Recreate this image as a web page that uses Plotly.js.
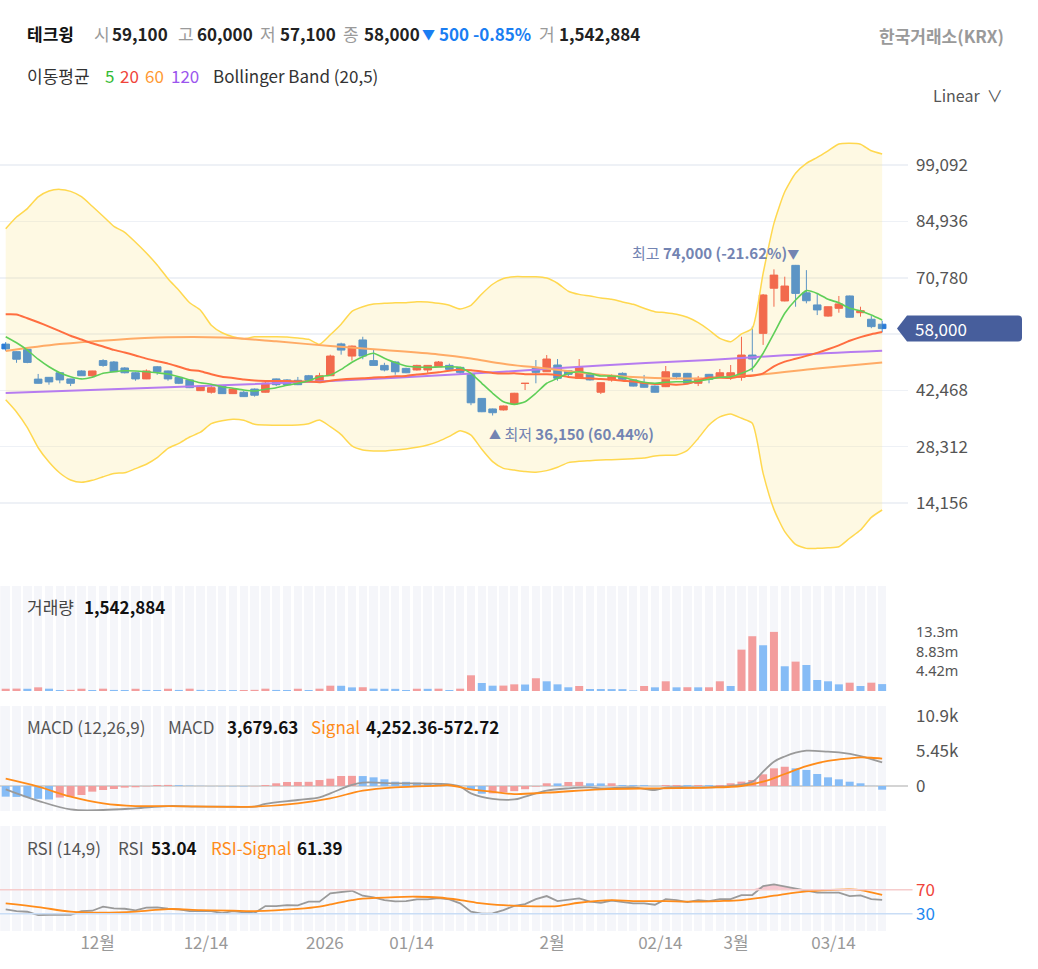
<!DOCTYPE html>
<html><head><meta charset="utf-8">
<script src="https://cdn.plot.ly/plotly-3.0.1.min.js"></script>
<style>html,body{margin:0;padding:0;background:#fff;}#chart{width:1038px;height:969px;}</style>
</head><body><div id="chart"></div>
<script>
// ---------------- DATA ----------------
const stockName = '테크윙';
const exchangeName = '한국거래소(KRX)';
const dates = [
'2025-11-19','2025-11-20','2025-11-21','2025-11-24','2025-11-25','2025-11-26','2025-11-27','2025-11-28',
'2025-12-01','2025-12-02','2025-12-03','2025-12-04','2025-12-05','2025-12-08','2025-12-09','2025-12-10','2025-12-11','2025-12-12',
'2025-12-15','2025-12-16','2025-12-17','2025-12-18','2025-12-19','2025-12-22','2025-12-23','2025-12-24','2025-12-26','2025-12-29','2025-12-30',
'2026-01-02','2026-01-05','2026-01-06','2026-01-07','2026-01-08','2026-01-09','2026-01-12','2026-01-13','2026-01-14','2026-01-15','2026-01-16',
'2026-01-19','2026-01-20','2026-01-21','2026-01-22','2026-01-23','2026-01-26','2026-01-27','2026-01-28','2026-01-29','2026-01-30',
'2026-02-02','2026-02-03','2026-02-04','2026-02-05','2026-02-06','2026-02-09','2026-02-10','2026-02-11','2026-02-12','2026-02-13',
'2026-02-19','2026-02-20','2026-02-23','2026-02-24','2026-02-25','2026-02-26','2026-02-27',
'2026-03-03','2026-03-04','2026-03-05','2026-03-06','2026-03-09','2026-03-10','2026-03-11','2026-03-12','2026-03-13',
'2026-03-16','2026-03-17','2026-03-18','2026-03-19','2026-03-20','2026-03-23'];

const tickDates  = ['2025-12-01','2025-12-15','2026-01-02','2026-01-14','2026-02-02','2026-02-19','2026-03-03','2026-03-16'];
const tickLabels = ['12월','12/14','2026','01/14','2월','02/14','3월','03/14'];

const open = [
54100,52200,52800,45300,45750,46900,45350,47350,46150,49950,
49600,48100,46900,45350,48400,47350,45750,45100,42400,42000,
43550,41650,42000,42800,42000,45350,45100,45000,46150,44650,
46150,54150,51100,55150,49950,48750,49600,48000,47600,47600,
48400,48750,48250,46450,40450,37800,37550,39050,44200,48000,
47150,48850,47400,45500,46500,42000,45100,46750,45100,44400,
43550,43400,46750,46750,44250,46500,45750,45750,45750,51350,
56800,68150,64950,73900,67000,63950,61150,63100,66200,62000,
60350,59100];
const high = [
54600,52300,53200,46600,45800,47000,45400,47500,47400,50300,
49850,48300,47100,47750,48600,47450,45850,45200,43700,44050,
43700,42950,42400,42950,44650,45450,45300,45850,46350,46900,
51450,54450,53750,55950,52850,49400,49750,48150,48900,48850,
49850,49200,48350,46600,40550,37900,38650,41850,44250,50100,
51350,50350,47450,50350,46600,44450,46500,47000,45200,46350,
43700,48600,46850,46850,46100,46600,47850,48850,55950,58500,
66700,72900,71050,74000,72700,66850,63550,66200,66300,63500,
61150,60000];
const low = [
52400,49400,49300,44200,43900,44250,43550,46100,45750,48400,
47100,46750,44900,45300,46400,44900,44050,43050,42300,41650,
41550,41550,40800,40900,41900,43550,43700,43800,44850,44550,
46100,51450,49950,50300,48700,47250,46400,46800,47450,46900,
48350,47600,46350,38750,37000,36150,37400,38900,42550,44250,
47100,44900,45900,45450,44950,41550,44650,45100,43450,43150,
41900,43300,45250,44150,43550,44250,45500,45100,44900,47150,
53900,63500,64850,63500,64350,61400,61000,62000,60800,61000,
58100,57100];
const close = [
52900,50300,49500,44250,44600,45100,44250,46150,47350,48750,
47150,46900,45350,47350,47150,45350,44250,43150,43550,43150,
41650,42800,40900,41250,44300,43900,43900,43900,45000,46150,
51100,52600,53600,51100,48750,47600,47150,46900,48750,48750,
49600,47750,47000,39350,37100,36850,38550,41750,44250,47000,
50350,45500,46500,48250,45100,44400,46150,45250,43550,43250,
42000,47150,45900,44250,45500,45250,46900,46900,51350,50350,
66450,71450,68700,66850,65000,62700,63500,64200,60850,62500,
58500,58000];
const volume = [
510000,540000,500000,820000,520000,230000,260000,510000,230000,520000,
240000,220000,500000,240000,220000,510000,240000,520000,250000,230000,
220000,210000,230000,260000,520000,240000,220000,510000,230000,520000,
1190000,1170000,810000,840000,520000,500000,480000,230000,510000,490000,
520000,230000,520000,3510000,1790000,1190000,1210000,1490000,1450000,2850000,
2170000,1490000,830000,1120000,450000,440000,430000,420000,150000,1120000,
820000,2170000,820000,840000,820000,830000,2170000,1120000,9250000,12250000,
10230000,13220000,5530000,6570000,5820000,2460000,2170000,1490000,1860000,1120000,
1860000,1542884];

const ma5 = [
55950,54450,52600,50300,48400,46900,45900,45350,45750,46750,
47150,47400,47350,47150,46900,46600,45900,45100,44400,44000,
43400,43000,42550,42300,42750,43150,43750,44250,44900,45900,
46350,47750,49550,50950,51800,50550,49450,48600,48350,48250,
48350,48400,48250,46750,44250,41750,39600,38950,39600,41750,
44250,45500,46750,47150,46750,46100,46100,45750,45100,44500,
44250,44500,44650,44650,44750,45250,45750,45900,46750,48000,
51800,56800,61850,65200,67550,66850,65350,64500,63100,62500,
61400,60150];
const ma20 = [
61600,61550,60600,59600,58500,57350,56200,55250,54300,53500,
52650,52000,51250,50450,49800,49200,48400,47600,47300,46500,
45900,45600,45200,44950,44850,44800,44800,44700,44700,44500,
44900,45200,45400,45500,45700,45800,46000,46100,46450,46700,
47000,47400,47650,47500,47200,46850,46700,46750,46550,46500,
46500,46300,45850,45600,45500,45300,45200,44900,44700,44300,
44100,44100,43900,44100,44950,45700,45700,45600,46050,46150,
46750,48500,49700,50400,51150,51900,52800,53800,54950,55850,
56600,57150];
const ma60 = [
52350,null,null,null,null,54100,null,null,null,null,
55150,null,null,null,null,55800,null,null,null,null,
55750,null,null,null,null,54800,null,null,null,null,
53600,null,null,null,null,52600,null,null,null,null,
51500,null,null,50500,null,null,49150,null,null,null,
47950,null,null,null,null,46400,null,null,null,null,
45600,null,null,null,null,45500,null,null,null,null,
46500,null,null,null,null,47950,null,null,null,null,
null,49500];
const ma120 = [
41800,null,null,null,null,null,null,null,null,null,
null,null,null,null,null,43250,null,null,null,null,
null,null,null,null,null,null,null,null,null,null,
44800,null,null,null,null,null,null,null,null,null,
null,null,null,null,null,null,47150,null,null,null,
null,null,null,null,null,48750,null,null,null,null,
null,null,null,null,null,50100,null,null,null,null,
null,null,51300,null,null,null,null,null,null,null,
null,52450];
const bbUpper = [
83100,86050,88150,91100,92600,93000,92500,91150,88750,86250,
83700,82200,79700,77000,74000,70550,67650,64500,62600,58850,
56950,55950,55450,55950,55950,55950,55900,55650,55300,54050,
56450,59100,62350,63500,64200,64350,64500,64500,64750,64700,
64350,63850,62950,63850,66700,69150,70600,71050,71050,71050,
70700,69400,67400,66600,66200,65700,65350,64700,64100,63100,
62250,62000,61600,60850,59500,57650,55550,54700,56650,58100,
71900,84450,92400,97050,99550,101050,102700,104400,104600,104350,
102700,101900];
const bbLower = [
40100,37050,33100,28050,24450,21700,19950,19350,19850,20750,
21600,21750,22800,23900,25550,27900,29150,30750,31950,34100,
34850,35200,34950,33950,33750,33700,33700,33750,34100,35000,
33350,31350,28500,27480,27250,27250,27500,27750,28150,28750,
29650,30900,32350,31200,27650,24550,22850,22450,22050,21900,
22300,23150,24300,24650,24800,24950,25050,25150,25300,25450,
25950,26150,26200,27400,30400,33750,35800,36550,35450,34200,
21600,12550,6950,3750,2750,2750,2900,3150,5300,7350,
10550,12400];

const macd = [
-520,null,null,-2300,null,null,-3650,null,null,-3740,
null,null,-3480,null,null,-3120,null,null,-3220,null,
null,-3220,null,-3220,-2800,null,null,-2180,null,-1770,
-1140,null,160,520,null,null,420,null,null,null,
null,250,-100,-1140,null,-2000,null,-2100,-1660,null,
-730,null,-360,null,-210,-360,null,null,-210,null,
-620,-260,null,null,null,-210,null,0,null,670,
2230,3790,4600,5200,5500,null,5350,5240,null,4670,
null,3679.63];
const macdSignal = [
1140,null,null,-100,null,null,-1660,null,null,-2700,
null,null,-3120,null,null,-3120,null,null,null,null,
null,null,null,-3220,null,null,null,-2700,null,null,
-1920,null,null,-730,null,null,-210,null,null,null,
50,120,null,-520,null,-900,null,-1250,null,null,
-1040,null,null,null,null,-520,null,null,null,null,
-360,null,null,null,null,-260,null,null,0,null,
670,null,1870,null,3100,null,3900,null,4310,4450,
4400,4252.36];
const macdHist = [
-1660,-1700,-1750,-2000,-2100,-1800,-1660,-1400,-880,-620,
-470,-250,-200,-50,150,170,120,60,30,-20,
-40,-50,-60,-30,150,420,620,630,650,930,
1140,1560,1580,1550,1350,1040,670,650,520,420,
310,160,20,-550,-1200,-1150,-1000,-800,-500,-100,
420,400,620,640,420,400,420,150,140,130,
-20,150,160,140,160,140,160,420,680,930,
1820,2750,3000,2750,2500,1870,1350,1040,670,420,
20,-572.72];

const rsi = [
37.2,34.4,33.3,27.8,28.3,28.3,28.3,34.4,35,41.7,
38.9,38.3,35.6,40,40.6,38.3,37.2,34.4,35,34.4,
31.1,34.4,32.2,31.1,42.8,42.8,44.4,43.9,50,50,
63.9,66.7,68.3,60,57.2,52.8,50.6,51.1,53.9,53.9,
56.1,53.9,47.2,33.3,30,30.5,36,43,46,54.4,
59.4,51.1,53.9,55.6,50,48.3,51.7,50,47.2,47.2,
45,54.4,52.8,49.4,52.8,51.1,54.4,54.4,61.1,61.1,
76.1,78.9,75,71.1,68.3,65,65,65,59.4,60.6,
54.4,53.04];
const rsiSignal = [
47.2,null,null,41,null,null,33.5,null,null,31.8,
null,null,33.5,null,null,37.8,null,null,36.1,null,
null,35,null,34.4,null,null,null,38,null,41.7,
45.5,null,52.5,55,null,null,57.8,null,58.3,null,
57,null,52.8,null,47.2,null,44.2,null,null,42.2,
null,42.8,null,48.3,null,null,52.8,null,51.1,null,
null,51.1,null,50,null,null,51.1,null,52.8,null,
57.2,null,62.8,null,67.2,null,69.4,null,70.5,69.4,
65.5,61.39];

const priceTicks = [14156,28312,42468,56624,70780,84936,99092];
const volTicks = [4420000,8830000,13260000];
const volTickLabels = ['4.42m','8.83m','13.3m'];
const macdTicks = [0,5450,10900];
const macdTickLabels = ['0','5.45k','10.9k'];
const rsiLevels = [30,70];

// ---------------- STYLE ----------------
const FONT = "'Noto Sans CJK KR','Noto Sans',sans-serif";
const RED = '#f0433a', BLUE = '#2b7cd8';
const VRED = '#f39d9d', VBLUE = '#86bcf6';
const W = 1038, H = 969;
const M = {l:0, r:130, t:110, b:38};
const PW = W - M.l - M.r, PH = H - M.t - M.b;
const px = x => (x - M.l) / PW;
const py = y => (H - M.b - y) / PH;
const X = dates.map((d, i) => i);
const xr = [-0.527, 83.39];
const fmt = v => v.toLocaleString('en-US');
const fmt2 = v => v.toLocaleString('en-US', {minimumFractionDigits:2, maximumFractionDigits:2});

const n = dates.length;
const last = n - 1;
const lastClose = close[last];
const volColors = volume.map((v, i) => (i === 0 || v > volume[i-1]) ? VRED : VBLUE);
const histColors = macdHist.map((h, i) => (i === 0 ? h >= 0 : h >= macdHist[i-1]) ? VRED : VBLUE);

const traces = [
  {type:'scatter', x:X, y:bbUpper, mode:'lines', line:{color:'#ffd84f', width:1.5, shape:'spline', smoothing:0.6}, xaxis:'x', yaxis:'y', hoverinfo:'skip'},
  {type:'scatter', x:X, y:bbLower, mode:'lines', fill:'tonexty', fillcolor:'rgba(250,228,140,0.24)', line:{color:'#ffd84f', width:1.5, shape:'spline', smoothing:0.6}, xaxis:'x', yaxis:'y', hoverinfo:'skip'},
  {type:'candlestick', x:X, open:open, high:high, low:low, close:close, xaxis:'x', yaxis:'y',
    increasing:{line:{color:RED, width:1}, fillcolor:RED},
    decreasing:{line:{color:BLUE, width:1}, fillcolor:BLUE}, whiskerwidth:0, hoverinfo:'skip'},
  {type:'scatter', x:X, y:ma120, mode:'lines', connectgaps:true, line:{color:'#b67cf0', width:2, shape:'spline'}, xaxis:'x', yaxis:'y'},
  {type:'scatter', x:X, y:ma60, mode:'lines', connectgaps:true, line:{color:'#ffab66', width:2, shape:'spline'}, xaxis:'x', yaxis:'y'},
  {type:'scatter', x:X, y:ma20, mode:'lines', line:{color:'#ff6e40', width:2, shape:'spline', smoothing:0.6}, xaxis:'x', yaxis:'y'},
  {type:'scatter', x:X, y:ma5, mode:'lines', line:{color:'#5fcf58', width:1.6, shape:'spline', smoothing:0.5}, xaxis:'x', yaxis:'y'},
  // volume
  {type:'bar', x:X, y:volume, marker:{color:volColors, line:{width:0}}, width:0.74, xaxis:'x2', yaxis:'y2'},
  // MACD
  {type:'bar', x:X, y:macdHist, marker:{color:histColors, line:{width:0}}, width:0.74, xaxis:'x3', yaxis:'y3'},
  {type:'scatter', x:X, y:macd, mode:'lines', connectgaps:true, line:{color:'#9a9a9a', width:1.8, shape:'spline'}, xaxis:'x3', yaxis:'y3'},
  {type:'scatter', x:X, y:macdSignal, mode:'lines', connectgaps:true, line:{color:'#ff8c1a', width:1.8, shape:'spline'}, xaxis:'x3', yaxis:'y3'},
  // RSI fills
  {type:'scatter', x:X, y:rsi.map(() => rsiLevels[1]), mode:'lines', line:{width:0}, xaxis:'x4', yaxis:'y4', hoverinfo:'skip'},
  {type:'scatter', x:X, y:rsi.map(v => Math.max(v, rsiLevels[1])), mode:'lines', fill:'tonexty', fillcolor:'rgba(245,150,165,0.5)', line:{width:0}, xaxis:'x4', yaxis:'y4', hoverinfo:'skip'},
  {type:'scatter', x:X, y:rsi.map(() => rsiLevels[0]), mode:'lines', line:{width:0}, xaxis:'x4', yaxis:'y4', hoverinfo:'skip'},
  {type:'scatter', x:X, y:rsi.map(v => Math.min(v, rsiLevels[0])), mode:'lines', fill:'tonexty', fillcolor:'rgba(150,190,240,0.45)', line:{width:0}, xaxis:'x4', yaxis:'y4', hoverinfo:'skip'},
  {type:'scatter', x:X, y:rsi, mode:'lines', line:{color:'#9a9a9a', width:1.8}, xaxis:'x4', yaxis:'y4'},
  {type:'scatter', x:X, y:rsiSignal, mode:'lines', connectgaps:true, line:{color:'#ff8c1a', width:1.8, shape:'spline'}, xaxis:'x4', yaxis:'y4'}
];

const stripes = {tickmode:'linear', tick0:0.5, dtick:1, showgrid:true, gridcolor:'#ffffff', gridwidth:2.4, ticks:''};
const baseX = {range:xr, showgrid:false, zeroline:false, showline:false, ticks:'', fixedrange:true};
const yFont = {family:FONT, size:17, color:'#555'};

const layout = {
  width:W, height:H, margin:M,
  paper_bgcolor:'#ffffff', plot_bgcolor:'rgba(0,0,0,0)',
  showlegend:false, hovermode:false,
  boxgap:0.3, boxgroupgap:0,
  font:{family:FONT, size:17, color:'#555'},
  xaxis: Object.assign({}, baseX, {anchor:'y', showticklabels:false, rangeslider:{visible:false}}),
  xaxis2: Object.assign({}, baseX, {anchor:'y2', matches:'x', showticklabels:false, minor:stripes}),
  xaxis3: Object.assign({}, baseX, {anchor:'y3', matches:'x', showticklabels:false, minor:stripes}),
  xaxis4: Object.assign({}, baseX, {anchor:'y4', matches:'x', minor:stripes,
    tickmode:'array', tickvals:tickDates.map(d => dates.indexOf(d) + 0.5), ticktext:tickLabels,
    tickfont:{family:FONT, size:17, color:'#999'}}),
  yaxis: {domain:[py(576), 1], range:[-4196, 112956], side:'right', tickmode:'array', tickvals:priceTicks,
    ticktext:priceTicks.map(v => Math.abs(v - lastClose) < 4000 ? '' : fmt(v)), showgrid:true, gridcolor:'#eef1f6', gridwidth:1.5, zeroline:false,
    tickfont:yFont, ticks:'', ticklabelstandoff:7, fixedrange:true},
  yaxis2: {domain:[py(691), py(586)], range:[0, 23480000], side:'right', tickmode:'array', tickvals:volTicks,
    ticktext:volTickLabels, showgrid:false, zeroline:false, tickfont:{family:"'Noto Sans',sans-serif", size:14.5, color:'#555'}, ticks:'', ticklabelstandoff:7, fixedrange:true},
  yaxis3: {domain:[py(811), py(706)], range:[-3894, 12461], side:'right', tickmode:'array', tickvals:macdTicks,
    ticktext:macdTickLabels, showgrid:false, zeroline:true, zerolinecolor:'#d4d4d4', zerolinewidth:1.5,
    tickfont:yFont, ticks:'', ticklabelstandoff:7, fixedrange:true},
  yaxis4: {domain:[0, py(826)], range:[1.2, 176.2], side:'right', tickmode:'array', tickvals:rsiLevels,
    ticktext:['<span style="color:#1e88f0">' + rsiLevels[0] + '</span>', '<span style="color:#f0443a">' + rsiLevels[1] + '</span>'],
    showgrid:false, zeroline:false, tickfont:yFont, ticks:'', ticklabelstandoff:7, fixedrange:true},
  shapes: [],
  annotations: []
};

['2','3','4'].forEach(a => layout.shapes.push({type:'rect', xref:'x'+a, yref:'y'+a+' domain', x0:-0.5, x1:n-0.5, y0:0, y1:1,
  fillcolor:'#f5f6fa', line:{width:0}, layer:'below'}));
layout.shapes.push({type:'line', xref:'paper', yref:'y4', x0:0, x1:1.005, y0:rsiLevels[1], y1:rsiLevels[1], line:{color:'#f6cccc', width:1.5}, layer:'above'});
layout.shapes.push({type:'line', xref:'paper', yref:'y4', x0:0, x1:1.005, y0:rsiLevels[0], y1:rsiLevels[0], line:{color:'#c9ddf6', width:1.5}, layer:'above'});

layout.shapes.push({type:'path', xref:'paper', yref:'y', xsizemode:'pixel', ysizemode:'pixel', xanchor:1, yanchor:lastClose,
  path:'M-11,0L-1,-13L110,-13Q114,-13 114,-9L114,9Q114,13 110,13L-1,13Z', fillcolor:'#475e9c', line:{width:0}, layer:'above'});

function T(x, y, text, color, size, anchor) {
  return {xref:'paper', yref:'paper', x:px(x), y:py(y), xanchor:anchor || 'left', yanchor:'middle', text:text,
    showarrow:false, font:{family:FONT, size:size || 17, color:color || '#333'}};
}
const A = layout.annotations;
const GRAY = '#9a9a9a';
const chg = close[last] - close[last-1];
const chgPct = (chg / close[last-1] * 100).toFixed(2);
const arrow = chg < 0 ? '▼' : '▲';
const chgColor = chg < 0 ? '#1a7ef2' : RED;
// header
A.push(T(25, 33, '<b>' + stockName + '</b>', '#111'));
A.push(T(92, 33, '시', GRAY)); A.push(T(110, 33, '<b>' + fmt(open[last]) + '</b>', '#222'));
A.push(T(176, 33, '고', GRAY)); A.push(T(195, 33, '<b>' + fmt(high[last]) + '</b>', '#222'));
A.push(T(258, 33, '저', GRAY)); A.push(T(278, 33, '<b>' + fmt(low[last]) + '</b>', '#222'));
A.push(T(341, 33, '종', GRAY)); A.push(T(362, 33, '<b>' + fmt(close[last]) + '</b>', '#222'));
A.push(T(420, 33, arrow, chgColor, 13)); A.push(T(437, 33, '<b>' + fmt(Math.abs(chg)) + ' ' + chgPct + '%</b>', chgColor));
A.push(T(537, 33, '거', GRAY)); A.push(T(557, 33, '<b>' + fmt(volume[last]) + '</b>', '#222'));
A.push(T(1006, 36, '<b>' + exchangeName + '</b>', '#9a9a9a', 17, 'right'));
// MA legend
A.push(T(25, 75, '이동평균', '#333'));
A.push(T(103, 75, '5', '#33bb33'));
A.push(T(118, 75, '20', '#f0443a'));
A.push(T(143, 75, '60', '#ff9a33'));
A.push(T(169, 75, '120', '#9b55ee'));
A.push(T(211, 75, 'Bollinger Band (20,5)', '#333'));
A.push(T(1005, 95, 'Linear \u00a0\u2228', '#555', 16, 'right'));
// panel titles
A.push(T(25, 606, '거래량', '#444'));
A.push(T(82, 606, '<b>' + fmt(volume[last]) + '</b>', '#111'));
A.push(T(25, 726, 'MACD (12,26,9)', '#555'));
A.push(T(166, 726, 'MACD', '#555'));
A.push(T(225, 726, '<b>' + fmt2(macd[last]) + '</b>', '#111'));
A.push(T(309, 726, 'Signal', '#ff8c1a'));
A.push(T(364, 726, '<b>' + fmt2(macdSignal[last]) + fmt2(macdHist[last]) + '</b>', '#111'));
A.push(T(25, 847, 'RSI (14,9)', '#555'));
A.push(T(116, 847, 'RSI', '#555'));
A.push(T(149, 847, '<b>' + rsi[last].toFixed(2) + '</b>', '#111'));
A.push(T(209, 847, 'RSI-Signal', '#ff8c1a'));
A.push(T(295, 847, '<b>' + rsiSignal[last].toFixed(2) + '</b>', '#111'));
// price badge text
A.push({xref:'paper', yref:'y', x:px(913), y:lastClose, xanchor:'left', yanchor:'middle', text:fmt(lastClose),
  showarrow:false, font:{family:FONT, size:17, color:'#ffffff'}});
// max / min markers
const hiV = Math.max(...high), hiI = high.indexOf(hiV);
const loV = Math.min(...low), loI = low.indexOf(loV);
const hiPct = ((lastClose / hiV - 1) * 100).toFixed(2);
const loPct = ((lastClose / loV - 1) * 100).toFixed(2);
A.push({xref:'x', yref:'y', x:hiI + 0.5, y:hiV, xanchor:'right', yanchor:'bottom', showarrow:false,
  text:'최고 <b>' + fmt(hiV) + ' (' + hiPct + '%)</b><span style="font-size:12px">▼</span>', font:{family:FONT, size:15, color:'#7384b2'}});
A.push({xref:'x', yref:'y', x:loI - 0.5, y:loV, xanchor:'left', yanchor:'top', yshift:-5, showarrow:false,
  text:'<span style="font-size:12px">▲</span> 최저 <b>' + fmt(loV) + ' (' + loPct + '%)</b>', font:{family:FONT, size:15, color:'#7384b2'}});

Plotly.newPlot('chart', traces, layout, {displayModeBar:false, staticPlot:true});
</script>
</body></html>
